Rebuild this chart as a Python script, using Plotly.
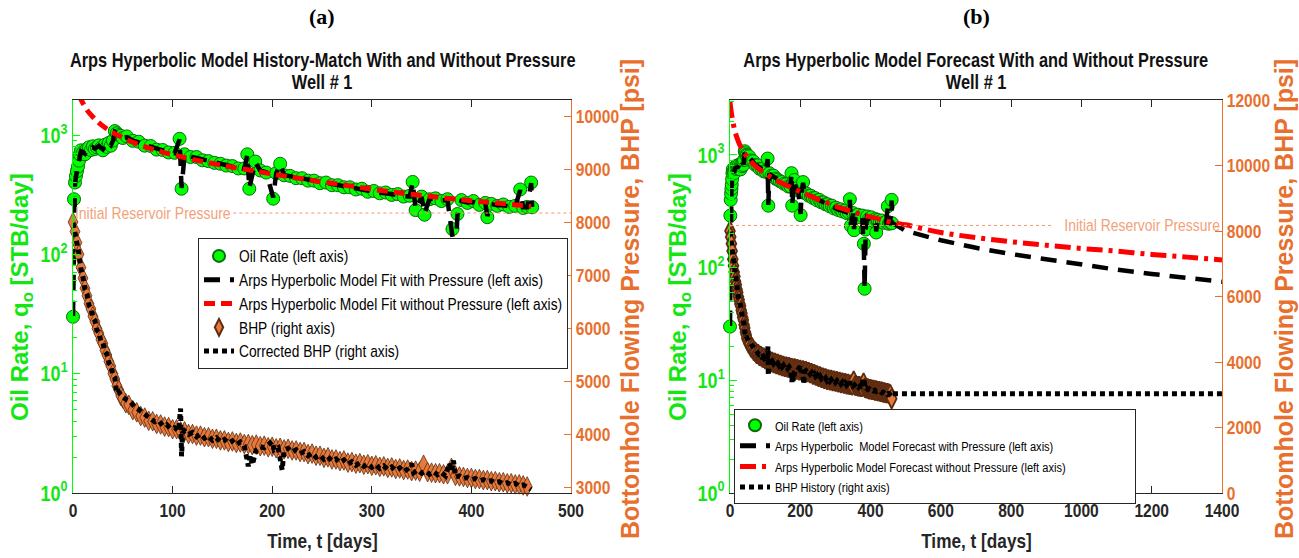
import plotly.graph_objects as go

# ---------------- data (Well # 1) ----------------
# oil rate history [STB/day]
T_OIL = [0, 1, 2, 3, 4, 5, 6, 7, 8, 10, 12, 14, 16, 18, 20, 22, 24, 26, 28, 30, 32, 34, 36, 38, 40,
         42, 44, 46, 48, 50, 54, 60, 66, 72, 78, 84, 90, 96, 102, 107, 109, 112, 118, 124, 130, 136,
         142, 148, 154, 160, 166, 172, 175, 177, 183, 188, 194, 201, 204, 208, 212, 218, 224, 230,
         236, 242, 248, 254, 260, 266, 272, 278, 284, 290, 296, 302, 308, 314, 320, 326, 332, 338,
         341, 344, 350, 353, 358, 364, 370, 376, 381, 383, 386, 390, 396, 402, 408, 414, 416, 420,
         426, 432, 438, 444, 449, 452, 456, 460, 461]
Q_OIL = [30, 290, 400, 455, 500, 545, 610, 690, 745, 715, 690, 765, 790, 750, 805, 765, 790, 820, 775,
         745, 830, 795, 860, 815, 900, 1080, 1035, 1000, 985, 945, 975, 895, 880, 815, 810, 755, 750,
         715, 710, 930, 355, 690, 655, 655, 615, 605, 585, 575, 555, 550, 525, 525, 690, 355, 600,
         505, 485, 293, 480, 575, 460, 455, 435, 435, 415, 415, 395, 400, 380, 380, 365, 365, 350,
         355, 335, 340, 325, 330, 315, 320, 305, 310, 405, 235, 305, 215, 290, 295, 280, 290, 163,
         65, 218, 285, 270, 280, 260, 270, 205, 265, 255, 262, 250, 255, 350, 245, 250, 400, 248]

# Arps hyperbolic fit with pressure (same time stamps as the rate history)
Q_FIT_P = [30, 280, 390, 450, 500, 540, 600, 680, 730, 720, 700, 750, 780, 760, 790, 770, 790, 810,
           780, 760, 820, 800, 850, 820, 890, 1060, 1030, 1000, 980, 950, 960, 900, 870, 820, 800,
           765, 745, 720, 705, 920, 360, 680, 660, 645, 620, 605, 590, 572, 558, 545, 530, 520, 680,
           360, 590, 505, 488, 300, 478, 565, 462, 452, 440, 432, 420, 412, 400, 396, 384, 378, 368,
           362, 354, 350, 340, 336, 328, 325, 318, 315, 308, 305, 400, 240, 302, 220, 292, 290, 284,
           285, 140, 65, 215, 280, 272, 275, 264, 266, 210, 264, 258, 258, 252, 252, 345, 248, 248,
           395, 250]

# forecast continuation of the with-pressure model
T_FC_P = [500, 600, 700, 800, 900, 1000, 1100, 1200, 1300, 1400]
Q_FC_P = [212, 175, 150, 132, 118, 105, 96, 88, 81, 75]

# Arps hyperbolic fit without pressure
T_FIT_NP = [0, 3, 6, 10, 15, 20, 25, 30, 40, 50, 60, 75, 90, 105, 120, 140, 160, 180, 200, 225, 250,
            275, 300, 325, 350, 375, 400, 425, 460]
Q_FIT_NP = [2950, 2480, 2150, 1850, 1580, 1420, 1290, 1190, 1050, 950, 870, 785, 720, 670, 625, 578,
            538, 505, 472, 437, 405, 378, 352, 330, 312, 296, 282, 270, 252]
T_FC_NP = [500, 600, 700, 800, 900, 1000, 1100, 1200, 1300, 1400]
Q_FC_NP = [240, 205, 185, 170, 158, 148, 140, 131, 124, 117]

# bottomhole flowing pressure [psi]
T_BHP = [0, 2, 4, 6, 8, 10, 12, 14, 16, 18, 20, 22, 24, 26, 28, 30, 32, 34, 36, 38, 40, 42, 44, 46, 48,
         50, 53, 56, 60, 64, 68, 72, 76, 80, 84, 88, 92, 96, 100, 104, 108, 112, 116, 120, 124, 128,
         132, 136, 140, 144, 148, 152, 156, 160, 164, 168, 172, 176, 180, 184, 188, 192, 196, 200,
         204, 208, 212, 216, 220, 224, 228, 232, 236, 240, 244, 248, 252, 256, 260, 264, 268, 272,
         276, 280, 284, 288, 292, 296, 300, 304, 308, 312, 316, 320, 324, 328, 332, 336, 340, 344,
         348, 352, 356, 360, 364, 368, 372, 376, 380, 384, 388, 392, 396, 400, 404, 408, 412, 416,
         420, 424, 428, 432, 436, 440, 444, 448, 452, 456, 460]
P_BHP = [8000, 7820, 7610, 7390, 7140, 6940, 6750, 6610, 6460, 6360, 6220, 6120, 5990, 5900, 5780,
         5710, 5580, 5490, 5370, 5280, 5140, 5040, 4910, 4830, 4720, 4670, 4580, 4550, 4450, 4410,
         4340, 4310, 4250, 4240, 4190, 4180, 4140, 4130, 4090, 4090, 4050, 4050, 4000, 4000, 3970,
         3970, 3940, 3940, 3910, 3910, 3880, 3880, 3850, 3860, 3830, 3840, 3810, 3810, 3790, 3800,
         3770, 3780, 3750, 3760, 3730, 3740, 3710, 3720, 3690, 3690, 3660, 3660, 3620, 3630, 3590,
         3590, 3550, 3560, 3520, 3520, 3490, 3500, 3460, 3470, 3440, 3450, 3420, 3430, 3400, 3410,
         3380, 3390, 3360, 3370, 3340, 3350, 3320, 3330, 3300, 3310, 3290, 3420, 3280, 3270, 3260,
         3260, 3240, 3240, 3360, 3210, 3200, 3190, 3170, 3170, 3150, 3150, 3130, 3130, 3110, 3110,
         3090, 3090, 3070, 3070, 3050, 3050, 3030, 3010, 2880]

# corrected BHP [psi]
T_CBHP = [0, 2, 4, 6, 8, 10, 12, 14, 16, 18, 20, 22, 24, 26, 28, 30, 32, 34, 36, 38, 40, 42, 44, 46,
          48, 50, 54, 58, 62, 66, 70, 74, 78, 82, 86, 90, 94, 98, 102, 106, 108, 109, 110, 112, 116,
          120, 124, 128, 132, 136, 140, 144, 148, 152, 156, 160, 164, 168, 172, 176, 178, 180, 184,
          188, 192, 196, 200, 202, 206, 210, 212, 216, 220, 224, 228, 232, 236, 240, 244, 248, 252,
          256, 260, 264, 268, 272, 276, 280, 284, 288, 292, 296, 300, 304, 308, 312, 316, 320, 324,
          328, 332, 336, 340, 342, 346, 350, 354, 358, 362, 366, 370, 374, 378, 380, 382, 384, 388,
          392, 396, 400, 404, 408, 412, 416, 420, 424, 428, 432, 436, 440, 444, 448, 452, 456, 460]
P_CBHP = [7980, 7800, 7580, 7400, 7100, 6960, 6720, 6640, 6430, 6380, 6190, 6140, 5960, 5920, 5750,
          5730, 5550, 5510, 5340, 5300, 5110, 5060, 4760, 4790, 4740, 4700, 4640, 4600, 4510, 4460,
          4400, 4330, 4300, 4230, 4250, 4160, 4180, 4100, 4120, 4060, 4480, 3580, 4020, 4060, 3990,
          4030, 3950, 4000, 3920, 3960, 3880, 3930, 3850, 3900, 3830, 3870, 3800, 3850, 3780, 3390,
          3600, 3420, 3700, 3760, 3740, 3790, 3860, 3700, 3740, 3320, 3700, 3730, 3660, 3700, 3630,
          3670, 3590, 3640, 3560, 3600, 3520, 3570, 3490, 3530, 3460, 3510, 3430, 3480, 3410, 3460,
          3390, 3440, 3370, 3420, 3350, 3400, 3330, 3380, 3310, 3360, 3290, 3340, 3440, 3270, 3320,
          3260, 3300, 3240, 3290, 3230, 3270, 3210, 3450, 3300, 3500, 3190, 3210, 3160, 3180, 3140,
          3160, 3120, 3140, 3100, 3120, 3080, 3100, 3060, 3080, 3040, 3070, 3020, 3040, 3000, 2950]

# BHP held constant over the forecast period
T_BHP_FC = [462, 1400]
P_BHP_FC = [3030, 3030]

P_INIT = 8170  # initial reservoir pressure [psi]

X_TICKS_A = [0, 100, 200, 300, 400, 500]
X_TICKS_B = [0, 200, 400, 600, 800, 1000, 1200, 1400]
P_TICKS_A = [3000, 4000, 5000, 6000, 7000, 8000, 9000, 10000]
P_TICKS_B = [0, 2000, 4000, 6000, 8000, 10000, 12000]
Q_TICKS = [1, 10, 100, 1000]
Q_TICK_TEXT = ["10<sup>0</sup>", "10<sup>1</sup>", "10<sup>2</sup>", "10<sup>3</sup>"]

# ---------------- styling ----------------
W, H = 1299, 558
# texts set in this family get horizontally condensed after drawing (see CONDENSE_JS)
NARROW = "Liberation Sans, Arial Narrow, sans-serif"
ARIAL = "Liberation Sans, Arial, sans-serif"
SERIF = "Liberation Serif, Times New Roman, serif"
GREEN = "#00FF00"
GREEN_TXT = "#14E614"
ORANGE = "#E8702E"
INK = "#262626"


def px(x):
    return x / W


def py(y):
    return 1 - y / H


fig = go.Figure()


def add_panel(xa, ya, ya2, legend, t_fit_p, q_fit_p, t_np, q_np, dash_np, names, t_bhp_line,
              p_bhp_line, bhp_line_name, edge_w):
    fig.add_trace(go.Scatter(
        x=T_OIL, y=Q_OIL, mode="markers", name=names[0], xaxis=xa, yaxis=ya, legend=legend,
        marker=dict(symbol="circle", size=13, color=GREEN, line=dict(color="#0B6B0B", width=1)),
        cliponaxis=False))
    fig.add_trace(go.Scatter(
        x=t_fit_p, y=q_fit_p, mode="lines", name=names[1], xaxis=xa, yaxis=ya, legend=legend,
        line=dict(color="black", width=4.5, dash="16px,10px")))
    fig.add_trace(go.Scatter(
        x=t_np, y=q_np, mode="lines", name=names[2], xaxis=xa, yaxis=ya, legend=legend,
        line=dict(color="#FF0000", width=5, dash=dash_np, shape="spline")))
    bhp_marker = dict(symbol="diamond-tall", size=14, color="#E57A3C",
                      line=dict(color="#5E2C10", width=edge_w))
    if names[3]:
        fig.add_trace(go.Scatter(x=T_BHP, y=P_BHP, mode="markers", name=names[3], xaxis=xa,
                                 yaxis=ya2, legend=legend, marker=bhp_marker, cliponaxis=False))
    else:
        fig.add_trace(go.Scatter(x=T_BHP, y=P_BHP, mode="markers", showlegend=False, xaxis=xa,
                                 yaxis=ya2, marker=bhp_marker, cliponaxis=False))
    fig.add_trace(go.Scatter(
        x=t_bhp_line, y=p_bhp_line, mode="lines", name=bhp_line_name, xaxis=xa, yaxis=ya2,
        legend=legend, line=dict(color="black", width=5, dash="5px,4px")))


# panel (a): history match
add_panel("x", "y", "y2", "legend", T_OIL, Q_FIT_P, T_FIT_NP, Q_FIT_NP, "11px,6px",
          ["Oil Rate (left axis)",
           "Arps Hyperbolic Model Fit with Pressure (left axis)",
           "Arps Hyperbolic Model Fit without Pressure (left axis)",
           "BHP (right axis)"],
          T_CBHP, P_CBHP, "Corrected BHP (right axis)", 0.8)
fig.add_trace(go.Scatter(x=[161, 500], y=[P_INIT, P_INIT], mode="lines", showlegend=False,
                         xaxis="x", yaxis="y2", line=dict(color="#EE9A6A", width=1, dash="dot")))

# panel (b): forecast
add_panel("x2", "y3", "y4", "legend2", T_OIL + T_FC_P, Q_FIT_P + Q_FC_P,
          T_FIT_NP + T_FC_NP, Q_FIT_NP + Q_FC_NP, "16px,6px,4px,6px",
          ["Oil Rate (left axis)",
           "Arps Hyperbolic  Model Forecast with Pressure (left axis)",
           "Arps Hyperbolic Model Forecast without Pressure (left axis)",
           None],
          T_CBHP + T_BHP_FC, P_CBHP + P_BHP_FC, "BHP History (right axis)", 1.8)
fig.add_trace(go.Scatter(x=[0, 916], y=[P_INIT, P_INIT], mode="lines", showlegend=False,
                         xaxis="x2", yaxis="y4", line=dict(color="#EE9A6A", width=1, dash="dot")))

Y_DOM = [py(493), py(100)]


def xaxis_cfg(dom, rng, ticks, anchor):
    return dict(domain=dom, range=rng, tickvals=ticks, ticks="inside", ticklen=7,
                tickcolor=INK, showline=True, linecolor=INK, linewidth=1, mirror="ticks",
                showgrid=False, zeroline=False, anchor=anchor, automargin=False,
                tickfont=dict(family=NARROW, size=19, color=INK, weight="bold"))


def qaxis_cfg(top, anchor):
    return dict(domain=Y_DOM, type="log", range=[0, top], tickvals=Q_TICKS, ticktext=Q_TICK_TEXT,
                ticks="inside", ticklen=7, tickcolor=GREEN, showline=True, linecolor=GREEN,
                linewidth=1, showgrid=False, zeroline=False, anchor=anchor, automargin=False,
                minor=dict(ticks="inside", ticklen=4, tickcolor=GREEN, dtick="D1", showgrid=False),
                tickfont=dict(family=NARROW, size=22, color=GREEN_TXT, weight="bold"))


def paxis_cfg(rng, ticks, over, anchor):
    return dict(overlaying=over, side="right", range=rng, tickvals=ticks,
                ticktext=[str(v) for v in ticks], ticks="inside",
                ticklen=7, tickcolor=ORANGE, showline=True, linecolor=ORANGE, linewidth=1,
                showgrid=False, zeroline=False, anchor=anchor, automargin=False,
                tickfont=dict(family=NARROW, size=19, color=ORANGE, weight="bold"))


legend_common = dict(xanchor="left", yanchor="top", bgcolor="white", bordercolor=INK,
                     borderwidth=1, itemwidth=30, itemsizing="constant", tracegroupgap=0)

fig.update_layout(
    width=W, height=H, margin=dict(l=0, r=0, t=0, b=0, pad=0, autoexpand=False),
    paper_bgcolor="white", plot_bgcolor="white",
    xaxis=xaxis_cfg([px(73), px(571)], [0, 500], X_TICKS_A, "y"),
    yaxis=qaxis_cfg(3.294, "x"),
    yaxis2=paxis_cfg([2887, 10302], P_TICKS_A, "y", "x"),
    xaxis2=xaxis_cfg([px(730), px(1222)], [0, 1400], X_TICKS_B, "y3"),
    yaxis3=qaxis_cfg(3.488, "x2"),
    yaxis4=paxis_cfg([0, 12000], P_TICKS_B, "y3", "x2"),
    legend=dict(x=px(198), y=py(238), font=dict(family=NARROW, size=16, color="black"),
                **legend_common),
    legend2=dict(x=px(734), y=py(409), font=dict(family=NARROW, size=13.5, color="black"),
                 **legend_common),
)

ann = []


def text(x, y, s, size, family, color="black", angle=0, xanchor="center", xref="paper",
         yref="paper"):
    ann.append(dict(x=x, y=y, text=s, showarrow=False, xref=xref, yref=yref, xanchor=xanchor,
                    align={"left": "left", "right": "right"}.get(xanchor, "center"),
                    yanchor="middle", textangle=angle,
                    font=dict(family=family, size=size, color=color)))


for cx, tag, title, lx, rx in [
        (322, "(a)", "Arps Hyperbolic Model History-Match With and Without Pressure", 21, 630),
        (976, "(b)", "Arps Hyperbolic Model Forecast With and Without Pressure", 679, 1284)]:
    text(px(cx), py(16), "<b>" + tag + "</b>", 22, SERIF)
    text(px(cx), py(60), "<b>" + title + "</b>", 20, NARROW, "#111111")
    text(px(cx), py(82), "<b>Well # 1</b>", 20, NARROW, "#111111")
    text(px(cx), py(540), "<b>Time, t [days]</b>", 21, NARROW, INK)
    text(px(lx), py(297), "<b>Oil Rate, q<sub>o</sub> [STB/day]</b>", 24, ARIAL, GREEN_TXT,
         angle=-90)
    text(px(rx), py(299), "<b>Bottomhole Flowing Pressure, BHP [psi]</b>", 25, ARIAL, ORANGE,
         angle=-90)

text(0, P_INIT, "Initial Reservoir Pressure", 17, NARROW, "#F2A27A", xanchor="left",
     xref="x", yref="y2")
text(1400, P_INIT, "Initial Reservoir Pressure", 17, NARROW, "#F2A27A", xanchor="right",
     xref="x2", yref="y4")

fig.update_layout(annotations=ann)

# Page without body margin; narrow-font texts are squeezed horizontally about their
# anchor, and the legend boxes are then fitted to the squeezed entries.
CONDENSE_JS = """
document.body.style.margin = '0';
document.body.style.overflow = 'hidden';
var gd = document.getElementById('{plot_id}');
var S = 0.82, SL = 0.86;
gd.querySelectorAll('text').forEach(function (t) {
  var ff = t.style.fontFamily || '';
  if (ff.indexOf('Narrow') < 0 || t.getAttribute('data-cond')) { return; }
  var bb = t.getBBox();
  if (!bb.width) { return; }
  var s = t.classList.contains('legendtext') ? SL : S;
  var anc = t.getAttribute('text-anchor') || t.style.textAnchor || 'start';
  var cx = anc === 'end' ? bb.x + bb.width : (anc === 'middle' ? bb.x + bb.width / 2 : bb.x);
  var tr = t.getAttribute('transform') || '';
  t.setAttribute('transform', tr + ' translate(' + cx + ',0) scale(' + s + ',1) translate(' + (-cx) + ',0)');
  t.setAttribute('data-cond', '1');
});
gd.querySelectorAll('g.legend, g.legend2').forEach(function (lg) {
  var bg = lg.querySelector('rect.bg');
  if (!bg) { return; }
  var left = bg.getBoundingClientRect().left;
  var right = 0;
  lg.querySelectorAll('text.legendtext').forEach(function (t) {
    right = Math.max(right, t.getBoundingClientRect().right);
  });
  if (right > left) { bg.setAttribute('width', right - left + 5); }
});
"""

fig.write_html("out.html", post_script=CONDENSE_JS)
